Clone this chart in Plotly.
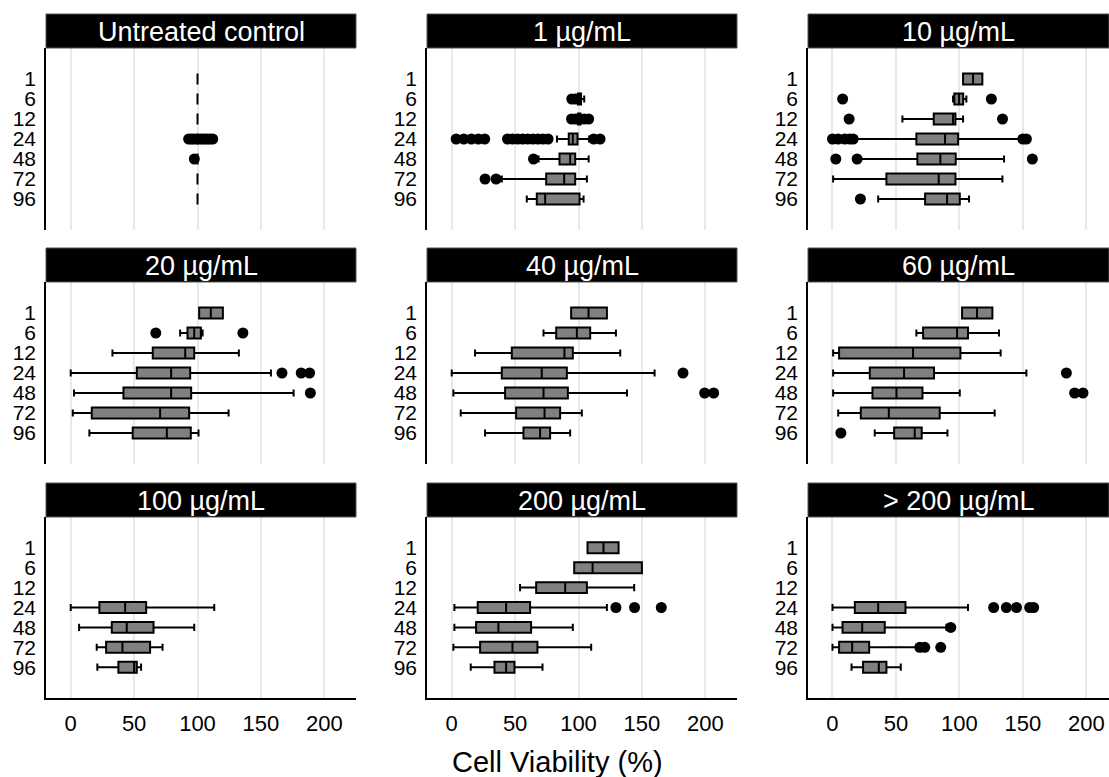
import plotly.graph_objects as go

# ---------------- data ----------------
TIMES = ["1", "6", "12", "24", "48", "72", "96"]
PANELS = ["Untreated control", "1 µg/mL", "10 µg/mL",
          "20 µg/mL", "40 µg/mL", "60 µg/mL",
          "100 µg/mL", "200 µg/mL", "> 200 µg/mL"]

# per panel, per time point (None = no data)
LOWER = [
    [100, 100, 100, 100, 100, 100, 100],
    [None, 99, 99, 83, 68.5, 39.5, 59.2],
    [102.9, 95, 55.1, 17.6, 21.5, 0.5, 36],
    [101.3, 86.3, 32.9, 0, 2.6, 1.6, 14.7],
    [94.2, 72.4, 18.4, 0, 1.3, 7.1, 26.3],
    [102.1, 66.1, 0.5, 0.5, 0.5, 4.5, 33.3],
    [None, None, None, 0, 6.6, 20.5, 21],
    [107.1, 96.6, 53.9, 2.1, 2.1, 1.3, 15],
    [None, None, None, 0, 0, 0, 15],
]
Q1 = [
    [100, 100, 100, 100, 100, 100, 100],
    [None, 99.5, 99.5, 92.3, 85, 74.5, 67.1],
    [102.9, 96, 79.8, 66.1, 66.9, 42.5, 73],
    [101.3, 92.1, 64.7, 52.1, 41.6, 16.6, 48.9],
    [94.2, 82.4, 47.4, 39.5, 42.1, 50.8, 56.6],
    [102.1, 71.4, 5.2, 29.4, 31.5, 22.3, 48.6],
    [None, None, None, 22.6, 32.4, 27.9, 37.6],
    [107.1, 96.6, 66.6, 20.5, 19.2, 22.4, 33.7],
    [None, None, None, 17.6, 7.9, 5.2, 24.1],
]
MEDIAN = [
    [100, 100, 100, 100, 100, 100, 100],
    [None, 100.5, 100.5, 95.5, 93.4, 88.7, 73.7],
    [110.8, 99.7, 95, 88.7, 85, 83.7, 90.3],
    [110.5, 97.4, 90.3, 79.2, 79.2, 70.5, 75.8],
    [107.9, 98.7, 88.9, 71, 72.4, 73.2, 69.7],
    [113.9, 98.2, 63.5, 56.4, 50.4, 44.4, 64.8],
    [None, None, None, 42.9, 44.2, 40.8, 50],
    [119.7, 111.1, 89.5, 42.9, 36.8, 47.9, 42.9],
    [None, None, None, 36, 23.4, 15.5, 36.5],
]
Q3 = [
    [100, 100, 100, 100, 100, 100, 100],
    [None, 102, 101.5, 99.2, 97.4, 97.4, 100.8],
    [118.1, 103, 96.9, 99, 97.1, 96.9, 100.3],
    [120, 102.6, 97.4, 94.2, 95, 93.4, 94.7],
    [122.4, 109.2, 95.5, 90.8, 91.6, 85.5, 77.6],
    [126, 106.8, 100.8, 80, 70.9, 84.5, 70.3],
    [None, None, None, 59.5, 65.3, 62.6, 52.1],
    [131.6, 150, 106.6, 61.8, 62.6, 67.6, 49.5],
    [None, None, None, 57.5, 41.2, 28.9, 42.5],
]
UPPER = [
    [100, 100, 100, 100, 100, 100, 100],
    [None, 104.5, 102.5, 108.4, 108, 106.6, 104],
    [118.1, 105.5, 102.9, 147.5, 135.2, 133.9, 107.6],
    [120, 104, 132.6, 157.9, 175.8, 124.5, 100.8],
    [122.4, 129.5, 132.9, 160, 138.2, 102.6, 93.4],
    [126, 131.2, 132.5, 152.8, 100.3, 127.8, 90.6],
    [None, None, None, 113.2, 97.4, 72.4, 55.5],
    [131.6, 150, 143.9, 122.4, 95.5, 110, 71.6],
    [None, None, None, 106.8, 89.8, 66, 53.8],
]
OUTLIERS = [
    {"24": [93, 95, 97, 99.5, 102, 104, 106, 108, 110, 112], "48": [97.5]},
    {"6": [94.7, 97.5], "12": [94.5, 97.5, 101, 104.5, 108],
     "24": [3.5, 9.5, 15.5, 21, 26, 44, 48, 52, 56, 60, 64, 68, 72, 76, 112, 117],
     "48": [64.5], "72": [26.3, 35]},
    {"6": [8, 125.2], "12": [13.1, 134], "24": [0, 4.5, 9.7, 13.6, 16.3, 150, 152.8],
     "48": [2.6, 19.4, 157.5], "96": [22]},
    {"6": [67.1, 135.8], "24": [166.6, 181.8, 188.4], "48": [189]},
    {"24": [182.4], "48": [199.5, 206.6]},
    {"24": [184.3], "48": [190.8, 197.4], "96": [6.6]},
    {},
    {"24": [129.5, 144.2, 165.3]},
    {"24": [127, 137, 145, 155.4, 158.5], "48": [93.2], "72": [68.8, 72.7, 85.3]},
]
X_TICKS = [0, 50, 100, 150, 200]
X_TITLE = "Cell Viability (%)"

# ---------------- layout geometry (pixels) ----------------
W, H = 1109, 777
COL_PX = [(46, 356), (427, 737), (808, 1109)]
ROW_PX = [(48, 230), (282, 464), (517, 698)]
STRIP_PX = [(14, 48), (248, 282), (483, 517)]
X_RANGES = [[-19.5, 225], [-19.5, 225], [-19.3, 217.9]]
FONT = "Liberation Sans, Arial, sans-serif"
GRID = "#e2ebef"

fig = go.Figure()
shapes, annotations = [], []
layout = {}

for k, title in enumerate(PANELS):
    r, c = divmod(k, 3)
    n = k + 1
    xa, ya = f"x{n}", f"y{n}"
    # boxes
    pos, q1, med, q3, lo, hi = [], [], [], [], [], []
    for i, t in enumerate(TIMES):
        if Q1[k][i] is None:
            continue
        pos.append(i)
        q1.append(Q1[k][i]); med.append(MEDIAN[k][i]); q3.append(Q3[k][i])
        lo.append(LOWER[k][i]); hi.append(UPPER[k][i])
    fig.add_trace(go.Box(
        orientation="h", y=pos, q1=q1, median=med, q3=q3,
        lowerfence=lo, upperfence=hi, boxpoints=False,
        fillcolor="#808080", line=dict(color="black", width=2),
        whiskerwidth=0.65, width=0.55, showlegend=False,
        xaxis=xa, yaxis=ya, hoverinfo="skip"))
    # outliers
    ox, oy = [], []
    for t, vals in OUTLIERS[k].items():
        for v in vals:
            ox.append(v)
            oy.append(TIMES.index(t))
    if ox:
        fig.add_trace(go.Scatter(
            x=ox, y=oy, mode="markers",
            marker=dict(color="black", size=11, line=dict(width=0)),
            showlegend=False, xaxis=xa, yaxis=ya, hoverinfo="skip"))

    x0, x1 = COL_PX[c]
    y0, y1 = ROW_PX[r]
    sfx = "" if n == 1 else str(n)
    layout[f"xaxis{sfx}"] = dict(
        domain=[x0 / W, x1 / W], range=X_RANGES[c], anchor=ya,
        tickvals=X_TICKS, showgrid=True, gridcolor=GRID, gridwidth=1.5,
        zeroline=False, showline=(r == 2), linecolor="black", linewidth=1.5,
        showticklabels=(r == 2), ticks="",
        tickfont=dict(size=22, color="black", family=FONT),
        ticklabelstandoff=5, fixedrange=True)
    layout[f"yaxis{sfx}"] = dict(
        domain=[1 - y1 / H, 1 - y0 / H], anchor=xa,
        range=[len(TIMES) - 1 + 1.55, -1.55],
        tickvals=list(range(len(TIMES))), ticktext=TIMES,
        showgrid=False, zeroline=False, showline=True,
        linecolor="black", linewidth=1.5, ticks="",
        tickfont=dict(size=21, color="black", family=FONT),
        ticklabelstandoff=4, fixedrange=True)

    s0, s1 = STRIP_PX[r]
    shapes.append(dict(type="rect", xref="paper", yref="paper",
                       x0=x0 / W, x1=x1 / W, y0=1 - s1 / H, y1=1 - s0 / H,
                       fillcolor="black", line=dict(color="#555555", width=1),
                       layer="above"))
    annotations.append(dict(text=title, xref="paper", yref="paper",
                            x=(x0 + x1) / 2 / W, y=1 - (s0 + s1 + 1) / 2 / H,
                            xanchor="center", yanchor="middle", showarrow=False,
                            font=dict(size=27, color="white", family=FONT)))

annotations.append(dict(text=X_TITLE, xref="paper", yref="paper",
                        x=557.5 / W, y=1 - 762 / H, xanchor="center",
                        yanchor="middle", showarrow=False,
                        font=dict(size=29, color="black", family=FONT)))

fig.update_layout(
    width=W, height=H, margin=dict(l=0, r=0, t=0, b=0),
    paper_bgcolor="white", plot_bgcolor="white",
    font=dict(family=FONT, color="black"),
    shapes=shapes, annotations=annotations, showlegend=False,
    **layout)

fig.write_html("out.html", config={"displayModeBar": False})
